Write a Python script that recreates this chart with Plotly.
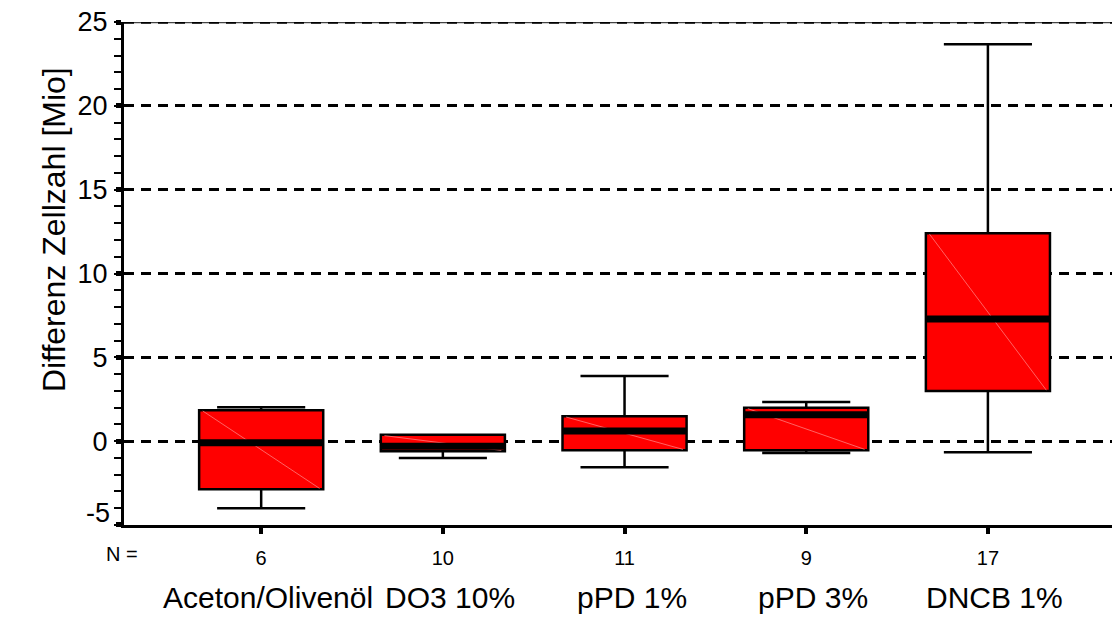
import plotly.graph_objects as go

groups = ["Aceton/Olivenöl", "DO3 10%", "pPD 1%", "pPD 3%", "DNCB 1%"]
n_values = ["6", "10", "11", "9", "17"]
lower_whisker = [-4.0, -1.0, -1.55, -0.7, -0.66]
q1 = [-2.87, -0.6, -0.54, -0.54, 2.99]
median = [-0.1, -0.3, 0.6, 1.57, 7.29]
q3 = [1.85, 0.38, 1.49, 1.99, 12.4]
upper_whisker = [2.03, 0.38, 3.89, 2.33, 23.67]
y_ticks = [-5, 0, 5, 10, 15, 20, 25]

FONT = "Liberation Sans, Arial, sans-serif"
BOX_W = 0.683
pos = list(range(len(groups)))

fig = go.Figure()
for i in pos:
    fig.add_trace(go.Box(
        x=[i], q1=[q1[i]], median=[median[i]], q3=[q3[i]],
        lowerfence=[lower_whisker[i]], upperfence=[upper_whisker[i]],
        width=BOX_W, whiskerwidth=0.71,
        fillcolor="#FF0000", line=dict(color="black", width=2.5),
        boxpoints=False, showlegend=False, hoverinfo="skip",
    ))

shapes = []
# top border line with dashed overlay
shapes.append(dict(type="line", xref="paper", yref="y", x0=0, x1=1, y0=25, y1=25,
                   line=dict(color="#444", width=2.5), layer="below"))
shapes.append(dict(type="line", xref="paper", yref="y", x0=0, x1=1, y0=25, y1=25,
                   line=dict(color="black", width=3.5, dash="10px,7px"), layer="below"))
for i in pos:
    # faint diagonal artifact
    shapes.append(dict(type="line", xref="x", yref="y",
                       x0=i - BOX_W / 2 + 0.02, x1=i + BOX_W / 2 - 0.02,
                       y0=q3[i] - 0.05, y1=q1[i] + 0.05,
                       line=dict(color="rgba(255,140,140,0.7)", width=1)))
    # thick median band
    shapes.append(dict(type="line", xref="x", yref="y",
                       x0=i - BOX_W / 2, x1=i + BOX_W / 2,
                       y0=median[i], y1=median[i],
                       line=dict(color="black", width=7)))

annotations = []
for i, g in enumerate(groups):
    annotations.append(dict(text=g, x=i, xref="x", y=-0.145, yref="paper",
                            xanchor="center", yanchor="middle", xshift=7,
                            showarrow=False, font=dict(family=FONT, size=30, color="black")))
annotations.append(dict(text="N =", x=0.0, xref="paper", y=-0.058, yref="paper",
                        xanchor="right", yanchor="middle", xshift=16,
                        showarrow=False, font=dict(family=FONT, size=20, color="black")))
annotations.append(dict(text="-5", x=0, xref="paper", y=-5, yref="y",
                        xanchor="right", yanchor="middle", xshift=-12, yshift=12,
                        showarrow=False, font=dict(family=FONT, size=27, color="black")))
annotations.append(dict(text="Differenz Zellzahl [Mio]", x=-0.0704, xref="paper",
                        y=0.588, yref="paper", textangle=-90,
                        xanchor="center", yanchor="middle", showarrow=False,
                        font=dict(family=FONT, size=32, color="black")))

# page body has an 8px margin: shrink the figure so the plot area lands where the reference has it
fig.update_layout(
    width=1112, height=611,
    margin=dict(l=116, r=0, t=14, b=94),
    paper_bgcolor="white", plot_bgcolor="white",
    font=dict(family=FONT, color="black"),
    shapes=shapes, annotations=annotations,
    xaxis=dict(
        range=[-0.755, 4.727], tickmode="array", tickvals=pos, ticktext=n_values,
        tickfont=dict(size=20), ticks="outside", ticklen=6, tickwidth=4, tickcolor="black",
        showline=True, linecolor="black", linewidth=3, showgrid=False, zeroline=False,
        ticklabelstandoff=7,
    ),
    yaxis=dict(
        range=[-5.0005, 25.0005], tickmode="array", tickvals=y_ticks,
        ticktext=["" if v == -5 else str(v) for v in y_ticks],
        tickfont=dict(size=27), ticks="outside", ticklen=5, tickwidth=5, tickcolor="black",
        showline=True, linecolor="black", linewidth=3, ticklabeloverflow="allow",
        showgrid=True, gridcolor="black", gridwidth=2.5, griddash="10px,7px",
        zeroline=False, ticklabelstandoff=3,
        minor=dict(dtick=1, ticks="outside", ticklen=7, tickwidth=2, tickcolor="black",
                   showgrid=False),
    ),
)

fig.write_html("out.html")
